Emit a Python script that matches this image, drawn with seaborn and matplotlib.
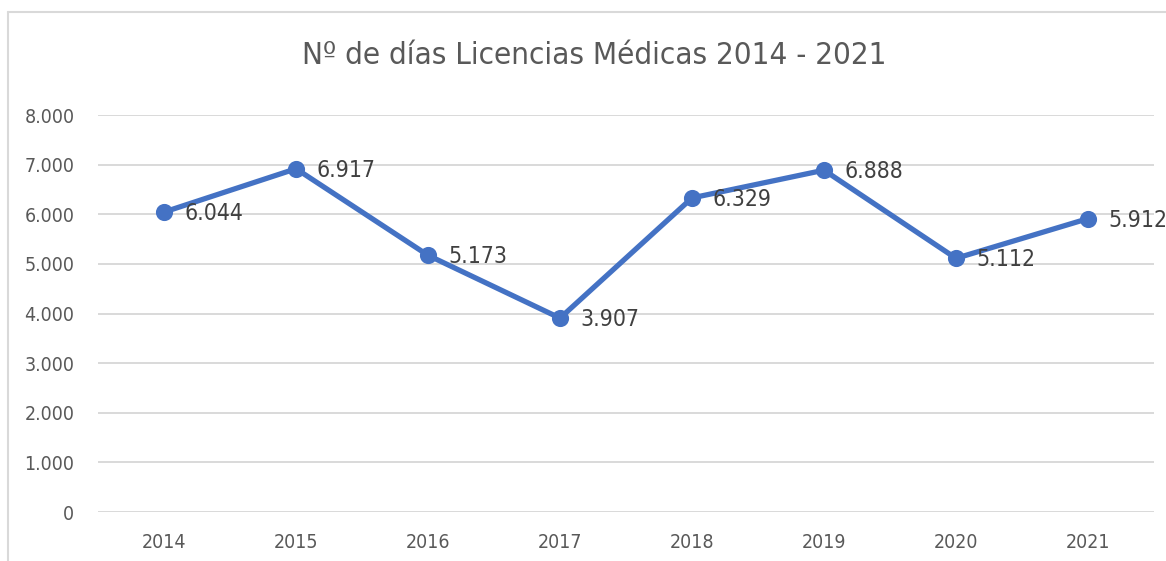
import matplotlib
matplotlib.use("Agg")
import matplotlib.pyplot as plt
from matplotlib import font_manager
from matplotlib.ticker import FuncFormatter
from matplotlib.lines import Line2D
import seaborn as sns
import pandas as pd

years = ["2014", "2015", "2016", "2017", "2018", "2019", "2020", "2021"]
dias = [6044, 6917, 5173, 3907, 6329, 6888, 5112, 5912]
title = "Nº de días Licencias Médicas 2014 - 2021"

sns.set_theme(style="white")
names = {f.name for f in font_manager.fontManager.ttflist}
if "Liberation Sans Narrow" in names:
    fam = ["Liberation Sans Narrow", "DejaVu Sans"]
    stretch = "normal"
else:
    fam = ["DejaVu Sans"]
    stretch = "condensed"
plt.rcParams["font.family"] = fam
plt.rcParams["font.stretch"] = stretch

W, H = 1166, 561
fig = plt.figure(figsize=(W / 100, H / 100), dpi=100)
ax = fig.add_axes([98 / W, 49 / H, (1154 - 98) / W, (512 - 115) / H])

df = pd.DataFrame({"year": years, "dias": dias})
blue = "#4472C4"
grey = "#595959"
sns.pointplot(data=df, x="year", y="dias", color=blue, ax=ax,
              markers="o", markersize=9.5, linewidth=3.8, errorbar=None)

ax.set_xlim(-0.5, len(years) - 0.5)
ax.set_ylim(0, 8000)
ax.set_yticks(range(0, 8001, 1000))
ax.yaxis.set_major_formatter(FuncFormatter(lambda v, p: f"{v:,.0f}".replace(",", ".")))
ax.grid(axis="y", color="#D9D9D9", linewidth=1.4)
ax.set_axisbelow(True)
for s in ax.spines.values():
    s.set_visible(False)
ax.tick_params(axis="both", length=0, labelsize=14, labelcolor=grey)
ax.tick_params(axis="y", pad=17)
ax.tick_params(axis="x", pad=15)
ax.set_xlabel("")
ax.set_ylabel("")

for i, v in enumerate(dias):
    ax.annotate(f"{v:,.0f}".replace(",", "."), (i, v), xytext=(14.5, -1),
                textcoords="offset points", ha="left", va="center",
                fontsize=16.5, color="#404040")

fig.text(594 / W, 1 - 55 / H, title, ha="center", va="center",
         fontsize=22.5, color=grey)

fig.add_artist(Line2D([8 / W, 8 / W], [0, 1 - 12 / H], transform=fig.transFigure,
                      color="#D9D9D9", linewidth=1.5))
fig.add_artist(Line2D([8 / W, 1], [1 - 12 / H, 1 - 12 / H], transform=fig.transFigure,
                      color="#D9D9D9", linewidth=1.5))

fig.savefig("out.png", dpi=100, facecolor="white")
